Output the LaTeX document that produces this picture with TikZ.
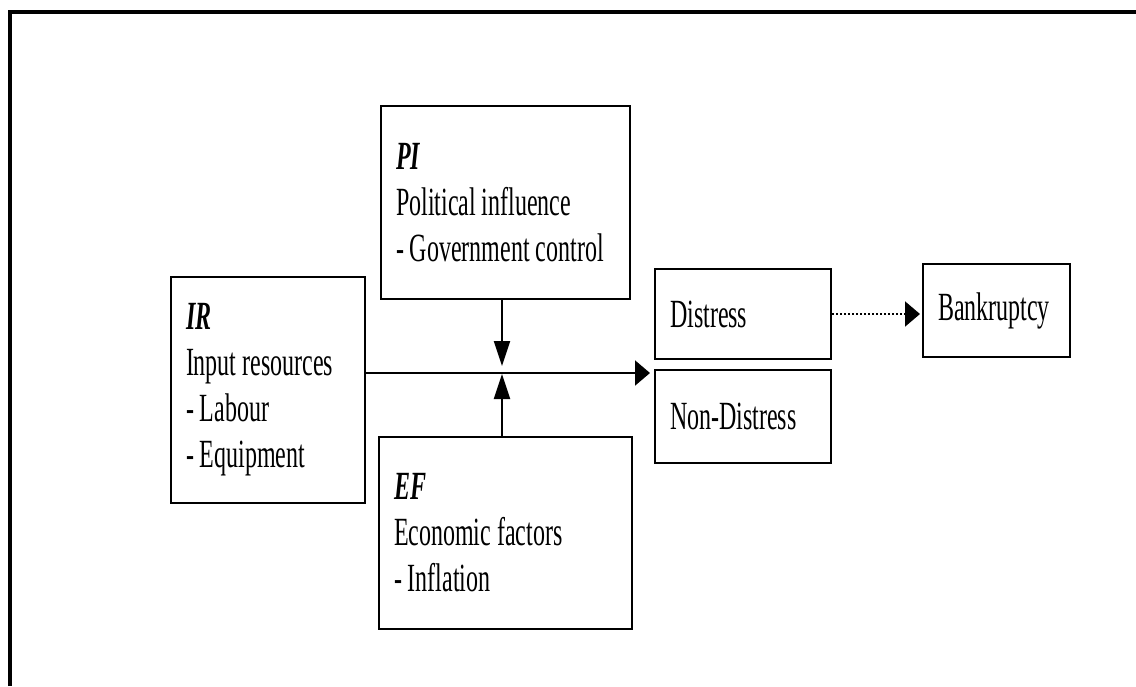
\documentclass[tikz,border=0pt]{standalone}
\usepackage{fontspec}
\setmainfont[FakeStretch=0.6]{Liberation Serif}
\usetikzlibrary{arrows.meta}
\newcommand\boxfont{\fontsize{20}{23}\selectfont\fontdimen2\font=3pt\relax}
\tikzset{
	box/.style={draw,line width=1pt,align=flush left,inner xsep=7.5pt,inner ysep=0pt,font=\boxfont},
	harrow/.style={line width=1pt,-{Triangle[length=7.5pt,width=12.5pt]}},
	varrow/.style={line width=1pt,-{Triangle[length=12.5pt,width=8pt]}}
}
\begin{document}
\begin{tikzpicture}[x=0.5pt,y=-0.5pt]
	\useasboundingbox (0,0) rectangle (1136,686);
	\draw[line width=2pt] (10,686) -- (10,12) -- (1136,12);
	\node[box,text width=82pt,minimum height=113pt] (IR) at (268,390) {\textbf{\textit{IR}}\\
	Input resources\\
	- Labour\\
	- Equipment};
	\node[box,text width=109.5pt,minimum height=96.5pt] (PI) at (505.5,202.5) {\textbf{\textit{PI}}\\
	Political influence\\
	- Government control};
	\node[box,text width=111.5pt,minimum height=96pt] (EF) at (505.5,533) {\textbf{\textit{EF}}\\
	Economic factors\\
	- Inflation};
	\node[box,text width=73pt,minimum height=45pt] (DS) at (743,314) {Distress};
	\node[box,text width=73pt,minimum height=46.5pt] (ND) at (743,416.5) {Non-Distress};
	\node[box,text width=58.5pt,minimum height=46.5pt] (BK) at (996.5,310.5) {Bankruptcy};
	\coordinate (J) at (502,373);
	\coordinate (T) at (650,373);
	\draw[harrow] (IR.east |- J) -- (T);
	\draw[varrow,shorten >=3.5pt] (PI.south -| J) -- (J);
	\draw[varrow,shorten >=0.5pt] (EF.north -| J) -- (J);
	\draw[harrow,densely dotted,shorten >=1pt] (DS.east) -- (DS.east -| BK.west);
	\end{tikzpicture}
\end{document}
